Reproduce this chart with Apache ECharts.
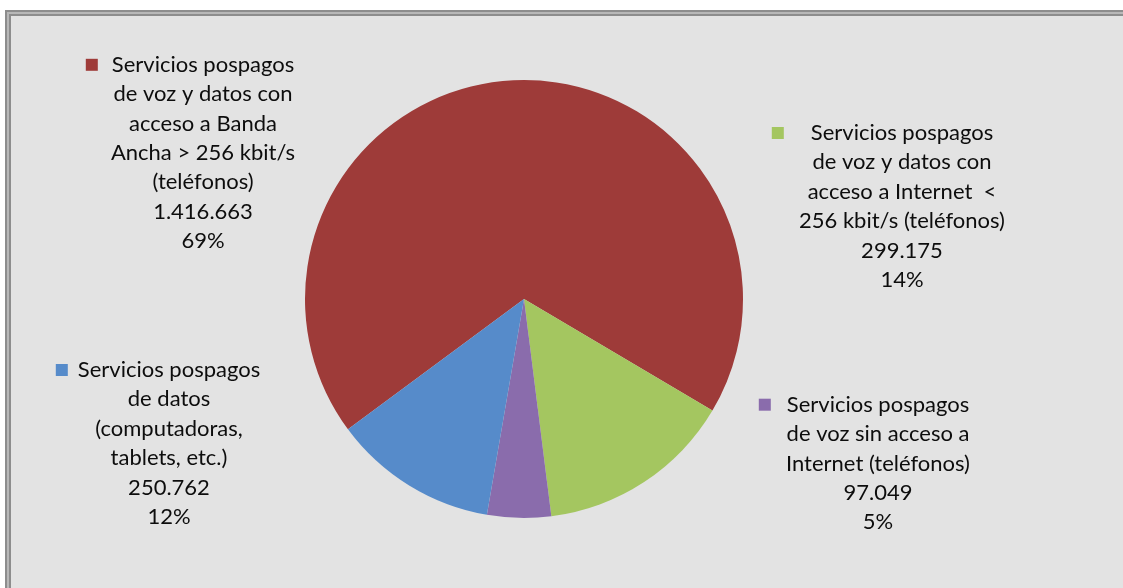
<!DOCTYPE html>
<html>
<head>
<meta charset="utf-8">
<script src="https://cdn.jsdelivr.net/npm/echarts@6/dist/echarts.min.js"></script>
<style>
html,body{margin:0;padding:0;background:#ffffff;}
#chart{width:1123px;height:588px;}
</style>
</head>
<body>
<div id="chart"></div>
<script>
const categories = [
  'Servicios pospagos\nde voz y datos con\nacceso a Banda\nAncha > 256 kbit/s\n(teléfonos)',
  'Servicios pospagos\nde voz y datos con\nacceso a Internet  <\n256 kbit/s (teléfonos)',
  'Servicios pospagos\nde voz sin acceso a\nInternet (teléfonos)',
  'Servicios pospagos\nde datos\n(computadoras,\ntablets, etc.)'
];
const values = [1416663, 299175, 97049, 250762];
const colors = ['#9e3b39', '#a4c660', '#8a6cac', '#568bca'];
const labelCenters = [[203, 153], [902, 206.5], [878, 463.5], [169, 443.5]];
const keyGaps = [14, 27, 16, 10];

const total = values.reduce((a, b) => a + b, 0);

function fmtNum(v) {
  return String(v).replace(/\B(?=(\d{3})+(?!\d))/g, '.');
}

const rich = { h: { width: 12, height: 12 } };
colors.forEach((c, i) => {
  rich['k' + i] = { width: 12, height: 12, backgroundColor: c };
  rich['g' + i] = { width: keyGaps[i] };
});

const chart = echarts.init(document.getElementById('chart'));
chart.setOption({
  animation: false,
  backgroundColor: '#ffffff',
  graphic: [
    { type: 'rect', z: 0, shape: { x: 8, y: 13, width: 1200, height: 700 },
      style: { fill: '#e3e3e3', stroke: '#8d8d8d', lineWidth: 6 } },
    { type: 'rect', z: 0, shape: { x: 8, y: 13, width: 1200, height: 700 },
      style: { fill: 'none', stroke: '#b8b8b8', lineWidth: 2 } }
  ],
  series: [{
    type: 'pie',
    z: 5,
    center: [524, 299],
    radius: 219,
    startAngle: 216.5,
    clockwise: true,
    avoidLabelOverlap: false,
    emphasis: { disabled: true },
    itemStyle: { borderWidth: 0 },
    labelLine: { show: false },
    label: {
      show: true,
      position: 'outside',
      fontFamily: 'Lato',
      fontSize: 22,
      lineHeight: 29.4,
      color: '#0d0d0d',
      align: 'center',
      rich: rich,
      formatter: function (p) {
        const i = p.dataIndex;
        const lines = p.name.split('\n');
        lines[0] = '{k' + i + '|}{g' + i + '|}' + lines[0] + '{g' + i + '|}{h|}';
        lines.push(fmtNum(p.value));
        lines.push(Math.round(p.value / total * 100) + '%');
        return lines.join('\n');
      }
    },
    labelLayout: function (params) {
      const c = labelCenters[params.dataIndex];
      return { x: c[0], y: c[1], align: 'center', verticalAlign: 'middle' };
    },
    data: categories.map((n, i) => ({ name: n, value: values[i], itemStyle: { color: colors[i] } }))
  }]
});
</script>
</body>
</html>
